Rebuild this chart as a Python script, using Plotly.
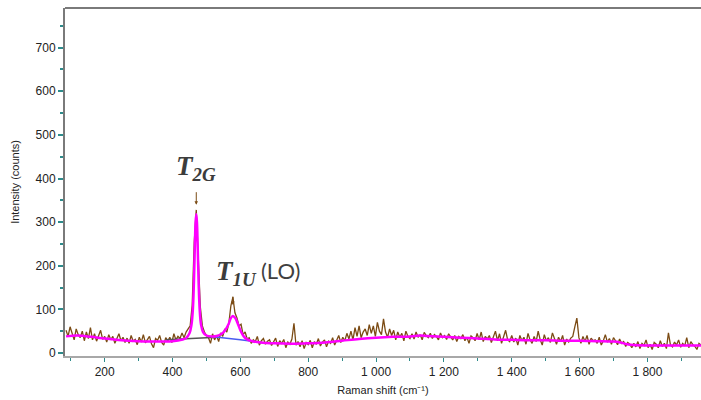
import plotly.graph_objects as go

# Raman shift (cm^-1) of measured spectrum
shift = [
    86, 92, 98, 104, 110, 116, 122, 128, 134, 140,
    146, 152, 158, 164, 170, 176, 182, 188, 194, 200,
    206, 212, 218, 224, 230, 236, 242, 248, 254, 260,
    266, 272, 278, 284, 290, 296, 302, 308, 314, 320,
    326, 332, 338, 344, 350, 356, 362, 368, 374, 380,
    386, 392, 398, 404, 410, 416, 422, 428, 434, 440,
    446, 452, 458, 464, 470, 476, 482, 488, 494, 500,
    506, 512, 518, 524, 530, 536, 542, 548, 554, 560,
    566, 572, 578, 584, 590, 596, 602, 608, 614, 620,
    626, 632, 638, 644, 650, 656, 662, 668, 674, 680,
    686, 692, 698, 704, 710, 716, 722, 728, 734, 740,
    746, 752, 758, 764, 770, 776, 782, 788, 794, 800,
    806, 812, 818, 824, 830, 836, 842, 848, 854, 860,
    866, 872, 878, 884, 890, 896, 902, 908, 914, 920,
    926, 932, 938, 944, 950, 956, 962, 968, 974, 980,
    986, 992, 998, 1004, 1010, 1016, 1022, 1028, 1034, 1040,
    1046, 1052, 1058, 1064, 1070, 1076, 1082, 1088, 1094, 1100,
    1106, 1112, 1118, 1124, 1130, 1136, 1142, 1148, 1154, 1160,
    1166, 1172, 1178, 1184, 1190, 1196, 1202, 1208, 1214, 1220,
    1226, 1232, 1238, 1244, 1250, 1256, 1262, 1268, 1274, 1280,
    1286, 1292, 1298, 1304, 1310, 1316, 1322, 1328, 1334, 1340,
    1346, 1352, 1358, 1364, 1370, 1376, 1382, 1388, 1394, 1400,
    1406, 1412, 1418, 1424, 1430, 1436, 1442, 1448, 1454, 1460,
    1466, 1472, 1478, 1484, 1490, 1496, 1502, 1508, 1514, 1520,
    1526, 1532, 1538, 1544, 1550, 1556, 1562, 1568, 1574, 1580,
    1586, 1592, 1598, 1604, 1610, 1616, 1622, 1628, 1634, 1640,
    1646, 1652, 1658, 1664, 1670, 1676, 1682, 1688, 1694, 1700,
    1706, 1712, 1718, 1724, 1730, 1736, 1742, 1748, 1754, 1760,
    1766, 1772, 1778, 1784, 1790, 1796, 1802, 1808, 1814, 1820,
    1826, 1832, 1838, 1844, 1850, 1856, 1862, 1868, 1874, 1880,
    1886, 1892, 1898, 1904, 1910, 1916, 1922, 1928, 1934, 1940,
    1946, 1952, 1958,
]

# Measured intensity (counts)
intensity = [
    52, 38, 60, 45, 30, 55, 42, 35, 50, 28,
    48, 33, 58, 30, 44, 27, 40, 52, 31, 38,
    25, 42, 30, 38, 22, 35, 44, 28, 36, 24,
    34, 22, 40, 27, 31, 19, 36, 25, 42, 23,
    30, 38, 21, 12, 33, 29, 40, 24, 18, 35,
    27, 36, 24, 44, 30, 38, 33, 46, 35, 48,
    55, 62, 110, 255, 328, 225, 105, 62, 48, 40,
    35, 22, 44, 30, 40, 26, 46, 38, 55, 48,
    68, 108, 128, 92, 80, 62, 66, 42, 48, 32,
    35, 22, 30, 26, 38, 18, 28, 33, 20, 27,
    30, 17, 26, 34, 15, 28, 22, 31, 12, 25,
    20, 32, 68, 18, 26, 14, 28, 10, 24, 19,
    29, 12, 26, 20, 33, 16, 25, 30, 14, 27,
    22, 35, 18, 30, 40, 24, 36, 28, 45, 32,
    50, 30, 58, 38, 62, 35, 48, 55, 40, 65,
    45, 62, 38, 70, 50, 42, 78, 48, 36, 55,
    40, 52, 30, 48, 36, 45, 28, 50, 38, 33,
    44, 32, 48, 36, 42, 30, 47, 40, 35, 45,
    33, 42, 38, 30, 46, 35, 40, 31, 44, 37,
    30, 40, 26, 38, 33, 42, 28, 36, 22, 39,
    35, 28, 45, 30, 48, 26, 38, 32, 40, 24,
    36, 50, 28, 44, 22, 38, 52, 30, 26, 40,
    25, 34, 18, 40, 28, 36, 20, 45, 30, 22,
    38, 26, 50, 30, 18, 42, 28, 35, 24, 46,
    30, 20, 36, 26, 40, 18, 32, 25, 34, 38,
    60, 80, 35, 22, 38, 26, 40, 20, 34, 28,
    30, 22, 36, 18, 28, 42, 25, 33, 20, 35,
    28, 19, 32, 22, 26, 15, 24, 20, 12, 22,
    14, 26, 10, 22, 17, 30, 12, 20, 8, 24,
    20, 12, 28, 15, 22, 10, 46, 18, 14, 25,
    18, 30, 13, 22, 16, 35, 12, 26, 19, 15,
    8, 22, 18,
]

# Total fit (magenta)
fit_shift = [86, 120, 160, 200, 250, 300, 350, 400, 430, 440, 450, 456, 460, 463,
             466, 468, 470, 472, 474, 477, 480, 484, 490, 500, 515, 530, 545, 555,
             565, 572, 578, 585, 592, 600, 610, 620, 635, 660, 700, 750, 800, 850,
             900, 950, 1000, 1050, 1100, 1130, 1150, 1200, 1250, 1300, 1350, 1400,
             1450, 1500, 1550, 1600, 1650, 1700, 1720, 1740, 1760, 1800, 1850, 1900, 1958]
fit_int = [38, 40, 37, 33, 29, 27, 26, 27, 31, 34, 45, 65, 100, 160,
           250, 300, 318, 300, 250, 160, 100, 65, 48, 40, 38, 39, 44, 52,
           66, 80, 85, 80, 68, 52, 38, 31, 27, 24, 22, 21, 22, 24,
           28, 32, 35, 37, 38, 40, 39, 37, 35, 33, 31, 30,
           29, 29, 28, 28, 27, 26, 24, 20, 18, 17, 17, 17, 17]

# Baseline components
base1_shift = [380, 420, 460, 500, 540]
base1_int = [30, 32, 34, 35, 36]
base2_shift = [520, 560, 600, 640, 670]
base2_int = [37, 34, 30, 26, 23]

# Axis ticks
x_tick_vals = [200, 400, 600, 800, 1000, 1200, 1400, 1600, 1800]
x_tick_text = ["200", "400", "600", "800", "1 000", "1 200", "1 400", "1 600", "1 800"]
y_tick_vals = [0, 100, 200, 300, 400, 500, 600, 700]

fig = go.Figure()
fig.add_trace(go.Scatter(x=shift, y=intensity, mode="lines",
                         line=dict(color="#7B4B14", width=1.3), showlegend=False))
fig.add_trace(go.Scatter(x=base1_shift, y=base1_int, mode="lines",
                         line=dict(color="#555555", width=1.5), showlegend=False))
fig.add_trace(go.Scatter(x=base2_shift, y=base2_int, mode="lines",
                         line=dict(color="#4A5BF0", width=1.5), showlegend=False))
fig.add_trace(go.Scatter(x=fit_shift, y=fit_int, mode="lines", line_shape="spline",
                         line=dict(color="#FF00FF", width=2.5), showlegend=False))

tick_font = dict(family="Liberation Sans, Arial", size=12, color="#222222")

fig.update_xaxes(
    range=[83, 1958], tickvals=x_tick_vals, ticktext=x_tick_text,
    ticks="outside", ticklen=4, tickcolor="#2E8B8B", tickwidth=1,
    minor=dict(dtick=100, tick0=0, ticks="outside", ticklen=3, tickcolor="#2E8B8B"),
    showline=True, linecolor="#A8A8A8", linewidth=2, showgrid=False, zeroline=False,
    tickfont=tick_font,
    title=dict(text="Raman shift (cm⁻¹)", font=dict(family="Liberation Sans, Arial", size=11, color="#222222"),
               standoff=8),
)
fig.update_yaxes(
    range=[-7, 791], tickvals=y_tick_vals,
    ticks="outside", ticklen=5, tickcolor="#2E8B8B", tickwidth=1.5,
    minor=dict(dtick=50, tick0=0, ticks="outside", ticklen=3, tickcolor="#2E8B8B"),
    showline=True, linecolor="#7A7A7A", linewidth=2, showgrid=False, zeroline=False,
    tickfont=tick_font,
    title=dict(text="Intensity (counts)", font=dict(family="Liberation Sans, Arial", size=11, color="#222222"),
               standoff=14),
)

serif = "Liberation Serif, DejaVu Serif, serif"
fig.add_annotation(x=470, y=425, xref="x", yref="y", showarrow=False,
                   text="<b><i>T</i></b><sub><b><i>2G</i></b></sub>",
                   font=dict(family=serif, size=27, color="#3C3C3C"))
fig.add_annotation(x=470, y=340, ax=0, ay=-14, xref="x", yref="y", text="",
                   showarrow=True, arrowhead=2, arrowsize=0.7, arrowwidth=1, arrowcolor="#7B4B14")
fig.add_annotation(x=578, y=110, ax=0, ay=-10, xref="x", yref="y", text="",
                   showarrow=True, arrowhead=2, arrowsize=0.7, arrowwidth=1, arrowcolor="#7B4B14")
fig.add_annotation(x=590, y=184, xref="x", yref="y", showarrow=False,
                   text="<b><i>T</i></b><sub><b><i>1U</i></b></sub>",
                   font=dict(family=serif, size=27, color="#3C3C3C"))
fig.add_annotation(x=721, y=188, xref="x", yref="y", showarrow=False,
                   text="(LO)",
                   font=dict(family="Lato, Liberation Sans", size=22, color="#404040"))

fig.add_shape(type="line", xref="paper", yref="paper", x0=0, x1=1, y0=1, y1=1,
              line=dict(color="#7A7A7A", width=2))

fig.update_layout(
    width=701, height=400,
    margin=dict(l=65, r=0, t=8, b=44),
    paper_bgcolor="white", plot_bgcolor="white",
)

fig.write_html("out.html", config={"displayModeBar": False},
               post_script="document.body.style.margin='0';document.body.style.overflow='hidden';")
